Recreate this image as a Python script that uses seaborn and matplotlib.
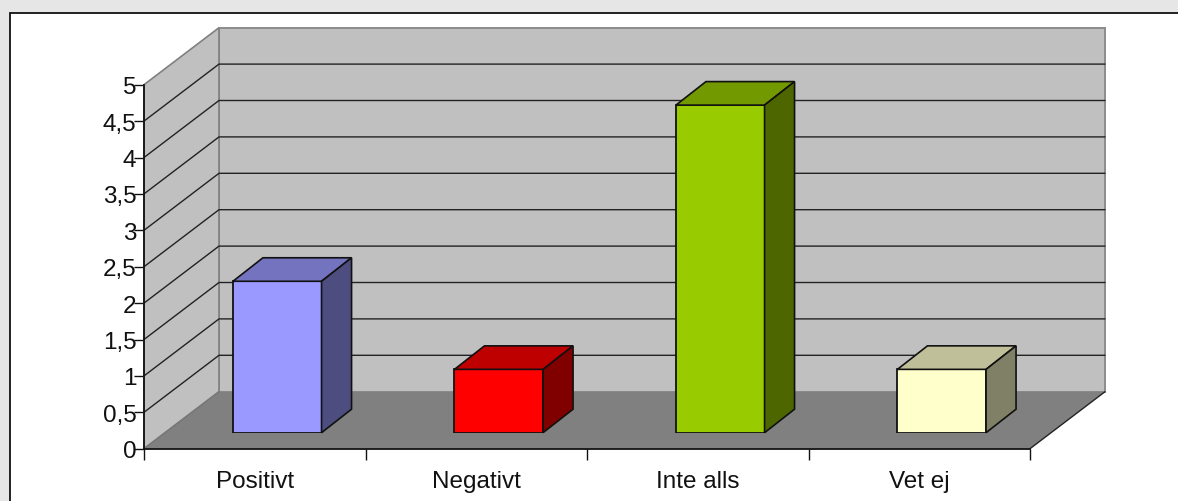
import matplotlib
matplotlib.use("Agg")
import matplotlib.pyplot as plt
import pandas as pd
import seaborn as sns
from matplotlib.patches import Polygon, Rectangle

categories = ["Positivt", "Negativt", "Inte alls", "Vet ej"]
values = [2.08, 0.87, 4.5, 0.87]
y_ticks = [0, 0.5, 1, 1.5, 2, 2.5, 3, 3.5, 4, 4.5, 5]
y_labels = ["0", "0,5", "1", "1,5", "2", "2,5", "3", "3,5", "4", "4,5", "5"]
front_colors = ["#9999ff", "#ff0000", "#99cc00", "#ffffcc"]
top_colors = ["#7373bf", "#bf0000", "#739900", "#bfbf99"]
side_colors = ["#4d4d80", "#800000", "#4d6600", "#808066"]

W, H = 1178, 502
sns.set_theme(style="white")
plt.rcParams["font.family"] = ["Liberation Sans", "DejaVu Sans"]

fig = plt.figure(figsize=(W / 100, H / 100), dpi=100, facecolor="#e6e6e6")


def px_box(left, top, right, bottom):
    return [left / W, 1 - bottom / H, (right - left) / W, (bottom - top) / H]


# White chart area, open towards the right and bottom edges
fig.add_artist(Rectangle((10 / W, -0.1), 1.1, 0.1 + 1 - 13.5 / H,
                         transform=fig.transFigure, facecolor="white",
                         edgecolor="#111111", linewidth=1.3, zorder=-1))

ax = fig.add_axes(px_box(144, 85.7, 1030, 449.7))
ax.set_facecolor("none")
ax.set_xlim(-0.5, 3.5)
ax.set_ylim(0, 5)

# Depth of the plot box, in data units
depth_x = 75 / 221.5
depth_y = 57 / 72.8
x0, x1 = -0.5, 3.5
wall = "#c0c0c0"
edge = "#808080"

ax.add_patch(Polygon([(x0 + depth_x, depth_y), (x1 + depth_x, depth_y),
                      (x1 + depth_x, 5 + depth_y), (x0 + depth_x, 5 + depth_y)],
                     closed=True, facecolor=wall, edgecolor="#8c8c8c",
                     linewidth=1.4, clip_on=False, zorder=1))
ax.add_patch(Polygon([(x0, 0), (x0 + depth_x, depth_y),
                      (x0 + depth_x, 5 + depth_y), (x0, 5)],
                     closed=True, facecolor=wall, edgecolor=edge,
                     linewidth=1.2, clip_on=False, zorder=1))
ax.add_patch(Polygon([(x0, 0), (x1, 0), (x1 + depth_x, depth_y), (x0 + depth_x, depth_y)],
                     closed=True, facecolor="#808080", edgecolor="none",
                     clip_on=False, zorder=1))
ax.plot([x1, x1 + depth_x], [0, depth_y], color="#222222", lw=1, clip_on=False, zorder=2)

# Gridlines running along the side wall and across the back wall
for tick in y_ticks[1:-1]:
    ax.plot([x0, x0 + depth_x, x1 + depth_x],
            [tick, tick + depth_y, tick + depth_y],
            color="#222222", lw=1, clip_on=False, zorder=2)
ax.plot([x0, x0 + depth_x], [0, depth_y], color="#777777", lw=1, clip_on=False, zorder=2)

ax.set_yticks(y_ticks, y_labels)
ax.set_xticks([0, 1, 2, 3], categories)
ax.set_xticks([-0.5, 0.5, 1.5, 2.5, 3.5], minor=True)
ax.tick_params(axis="y", which="major", length=7, width=1, color="#111111",
               labelsize=17.5, labelcolor="#111111", pad=-1.5, left=True)
ax.tick_params(axis="x", which="major", length=0, labelsize=17.5,
               labelcolor="#111111", pad=15)
ax.tick_params(axis="x", which="minor", length=8, width=1, color="#111111", bottom=True)
for side in ("top", "right"):
    ax.spines[side].set_visible(False)
for side in ("left", "bottom"):
    ax.spines[side].set_color("#111111")
    ax.spines[side].set_linewidth(1.3)
    ax.spines[side].set_zorder(3)

# Bars stand a little inside the floor, on their own overlaid axes
bars_ax = fig.add_axes(px_box(144 + 22.5, 85.7 - 16, 1030 + 22.5, 449.7 - 16))
bars_ax.set_facecolor("none")
data = pd.DataFrame({"answer": categories, "count": values})
sns.barplot(data=data, x="answer", y="count", hue="answer", order=categories,
            hue_order=categories, palette=front_colors, width=0.4, saturation=1,
            edgecolor="#111111", linewidth=1.3, legend=False, ax=bars_ax, zorder=3)
bars_ax.set_xlim(-0.5, 3.5)
bars_ax.set_ylim(0, 5)
bars_ax.axis("off")

bar_dx = 30 / 221.5
bar_dy = 23.5 / 72.8
for bar, top_color, side_color in zip(list(bars_ax.patches), top_colors, side_colors):
    left = bar.get_x()
    right = left + bar.get_width()
    height = bar.get_height()
    bars_ax.add_patch(Polygon([(left, height), (right, height),
                               (right + bar_dx, height + bar_dy), (left + bar_dx, height + bar_dy)],
                              closed=True, facecolor=top_color, edgecolor="#111111",
                              linewidth=1.2, clip_on=False, zorder=3))
    bars_ax.add_patch(Polygon([(right, 0), (right + bar_dx, bar_dy),
                               (right + bar_dx, height + bar_dy), (right, height)],
                              closed=True, facecolor=side_color, edgecolor="#111111",
                              linewidth=1.2, clip_on=False, zorder=3))

fig.savefig("out.png", dpi=100, facecolor=fig.get_facecolor())
